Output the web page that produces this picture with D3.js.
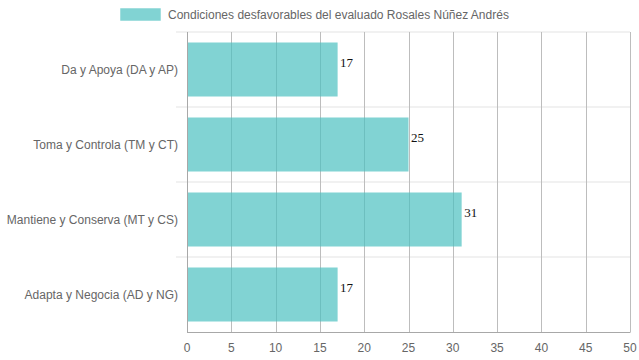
<!DOCTYPE html>
<html><head><meta charset="utf-8">
<script src="https://cdn.jsdelivr.net/npm/d3@7"></script>
<style>body{margin:0;background:#fff;}svg{display:block;}</style>
</head><body>
<script>
const categories = ["Da y Apoya (DA y AP)", "Toma y Controla (TM y CT)", "Mantiene y Conserva (MT y CS)", "Adapta y Negocia (AD y NG)"];
const values = [17, 25, 31, 17];
const seriesName = "Condiciones desfavorables del evaluado Rosales Núñez Andrés";
const xTicks = [0, 5, 10, 15, 20, 25, 30, 35, 40, 45, 50];

(function () {
const W = 639, H = 360;
const pLeft = 187, pRight = 630, pTop = 32, pBottom = 332;
const fill = "rgba(75,192,192,0.7)";
const font = "'Liberation Sans', Arial, sans-serif";

const svg = d3.select("body").append("svg").attr("width", W).attr("height", H);

const x = d3.scaleLinear().domain([0, 50]).range([pLeft, pRight]);
const y = d3.scaleBand().domain(categories).range([pTop, pBottom]).paddingInner(0).paddingOuter(0);

// horizontal grid (category boundaries)
const hLines = categories.map(c => y(c));
svg.append("g").selectAll("line").data(hLines).join("line")
  .attr("x1", pLeft - 11).attr("x2", pRight)
  .attr("y1", d => d).attr("y2", d => d)
  .attr("stroke", "#ececec").attr("stroke-width", 1.5);

// vertical grid
svg.append("g").selectAll("line").data(xTicks).join("line")
  .attr("x1", d => Math.round(x(d)) + 0.5).attr("x2", d => Math.round(x(d)) + 0.5)
  .attr("y1", pTop).attr("y2", pBottom)
  .attr("stroke", "#bdbdbd").attr("stroke-width", 1);

// bars
const bw = y.bandwidth() * 0.72;
svg.append("g").selectAll("rect").data(values).join("rect")
  .attr("x", x(0))
  .attr("y", (d, i) => y(categories[i]) + (y.bandwidth() - bw) / 2)
  .attr("width", d => x(d) - x(0))
  .attr("height", bw)
  .attr("fill", fill);

// axes lines
svg.append("line").attr("x1", pLeft).attr("x2", pRight + 0.5).attr("y1", pBottom + 0.5).attr("y2", pBottom + 0.5)
  .attr("stroke", "#a8a8a8");
svg.append("line").attr("x1", pLeft + 0.5).attr("x2", pLeft + 0.5).attr("y1", pTop).attr("y2", pBottom)
  .attr("stroke", "#a8a8a8");

// value labels
svg.append("g").selectAll("text").data(values).join("text")
  .attr("x", d => x(d) + 2.5)
  .attr("y", (d, i) => y(categories[i]) + y.bandwidth() / 2 - 2.5)
  .attr("font-family", "'Liberation Serif', 'Times New Roman', serif")
  .attr("font-size", 13).attr("fill", "#111")
  .text(d => d);

// y labels
svg.append("g").selectAll("text").data(categories).join("text")
  .attr("x", pLeft - 9)
  .attr("y", d => y(d) + y.bandwidth() / 2)
  .attr("dy", "0.35em")
  .attr("text-anchor", "end")
  .attr("font-family", font).attr("font-size", 12).attr("fill", "#666")
  .text(d => d);

// x tick labels
svg.append("g").selectAll("text").data(xTicks).join("text")
  .attr("x", d => x(d))
  .attr("y", 348).attr("dy", "0.35em")
  .attr("text-anchor", "middle")
  .attr("font-family", font).attr("font-size", 12).attr("fill", "#666")
  .text(d => d);

// legend
svg.append("rect").attr("x", 120.5).attr("y", 8.5).attr("width", 40).attr("height", 12)
  .attr("fill", fill).attr("stroke", "rgba(75,192,192,0.25)").attr("stroke-width", 1);
svg.append("text").attr("x", 168).attr("y", 15).attr("dy", "0.35em")
  .attr("font-family", font).attr("font-size", 12).attr("fill", "#666")
  .text(seriesName);
})();
</script>
</body></html>
